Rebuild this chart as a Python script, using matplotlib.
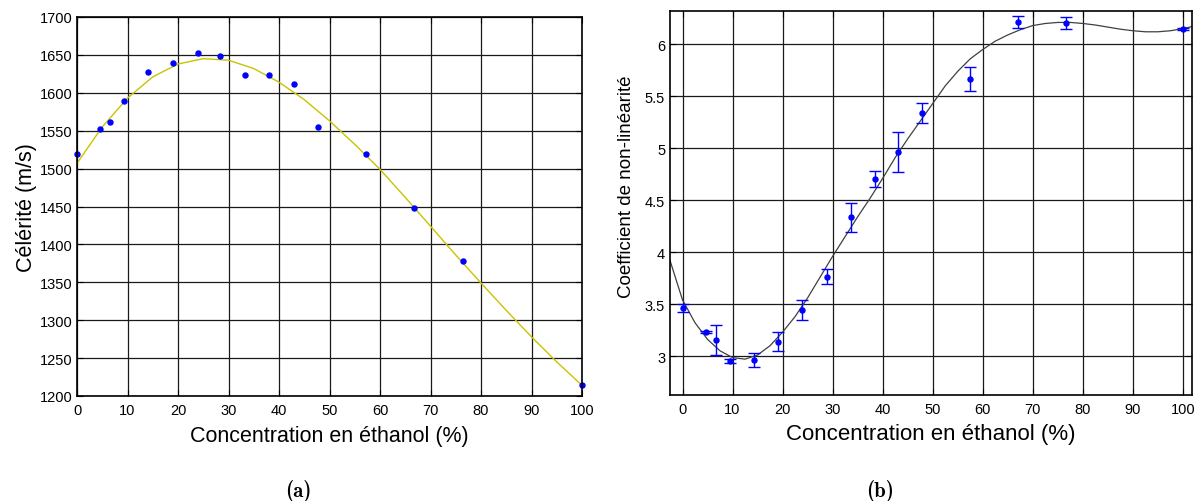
import numpy as np
import matplotlib
matplotlib.use("Agg")
import matplotlib.pyplot as plt

plt.rcParams['font.family'] = ['Liberation Sans', 'DejaVu Sans']

# (a) celerite vs concentration
conc_a = [0, 4.6, 6.5, 9.3, 14.1, 19.0, 23.9, 28.4, 33.2, 38.0, 42.9, 47.7, 57.2, 66.8, 76.5, 100]
celerite = [1519, 1552, 1561, 1589, 1627, 1639, 1653, 1649, 1624, 1624, 1612, 1555, 1519, 1448, 1378, 1214]
# fitted curve
fit_a_x = [0, 5, 10, 15, 20, 25, 30, 35, 40, 45, 50, 55, 60, 65, 70, 75, 80, 85, 90, 95, 100]
fit_a_y = [1507, 1555, 1593, 1621, 1638, 1645, 1643, 1632, 1614, 1591, 1563, 1532, 1499,
           1462, 1424, 1386, 1349, 1313, 1278, 1245, 1214]

# (b) non-linearity coefficient
conc_b = [0, 4.6, 6.6, 9.5, 14.3, 19.1, 23.9, 28.8, 33.6, 38.5, 43.0, 47.9, 57.4, 67.0, 76.7, 100]
coef_b = [3.465, 3.229, 3.158, 2.952, 2.961, 3.139, 3.442, 3.765, 4.333, 4.702, 4.965, 5.340,
          5.667, 6.215, 6.205, 6.151]
err_b = [0.04, 0.012, 0.145, 0.016, 0.065, 0.094, 0.10, 0.076, 0.135, 0.077, 0.19, 0.098,
         0.115, 0.055, 0.06, 0.01]
fit_b_x = [-2.5, 0, 2.5, 5, 7.5, 10, 12.5, 15, 17.5, 20, 22.5, 25, 27.5, 30, 32.5, 35, 37.5,
           40, 42.5, 45, 47.5, 50, 52.5, 55, 57.5, 60, 62.5, 65, 67.5, 70, 72.5, 75, 77.5,
           80, 82.5, 85, 87.5, 90, 92.5, 95, 97.5, 100, 101.8]
fit_b_y = [3.92, 3.54, 3.32, 3.16, 3.05, 2.985, 2.97, 3.01, 3.10, 3.23, 3.38, 3.56, 3.76,
           3.96, 4.15, 4.34, 4.52, 4.71, 4.91, 5.09, 5.26, 5.43, 5.60, 5.74, 5.86, 5.95,
           6.03, 6.09, 6.14, 6.18, 6.20, 6.21, 6.21, 6.20, 6.185, 6.165, 6.145, 6.13,
           6.12, 6.12, 6.13, 6.15, 6.17]

xticks = np.arange(0, 101, 10)
yticks_a = np.arange(1200, 1701, 50)
yticks_b = [3, 3.5, 4, 4.5, 5, 5.5, 6]
yticklabels_b = ['3', '3.5', '4', '4.5', '5', '5.5', '6']

W, H = 1195, 502
fig = plt.figure(figsize=(W / 100, H / 100), dpi=100)
ax1 = fig.add_axes([77 / W, 105 / H, 505 / W, 379 / H])
ax2 = fig.add_axes([670 / W, 106 / H, 522 / W, 384 / H])

for ax in (ax1, ax2):
    ax.grid(True, color='#1a1a1a', lw=0.9)
    ax.set_axisbelow(True)
    ax.tick_params(direction='in', length=4, top=True, right=True, labelsize=10.5,
                   width=0.8)
    ax.tick_params(axis='x', pad=5)
    ax.tick_params(axis='y', pad=3.5)
    for s in ax.spines.values():
        s.set_linewidth(1.2)

ax1.plot(fit_a_x, fit_a_y, color='#c8c400', lw=1.0)
ax1.plot(conc_a, celerite, 'o', color='#0000ff', ms=3.6, clip_on=False)
ax1.set_xlim(0, 100)
ax1.set_ylim(1200, 1700)
ax1.set_xticks(xticks)
ax1.set_yticks(yticks_a)
ax1.set_xlabel('Concentration en éthanol (%)', fontsize=15.5, labelpad=6)
ax1.set_ylabel('Célérité (m/s)', fontsize=15.5, labelpad=2)

ax2.plot(fit_b_x, fit_b_y, color='#404040', lw=0.9)
ax2.errorbar(conc_b, coef_b, yerr=err_b, fmt='o', color='#0000ff', ms=3.6,
             elinewidth=1.0, capsize=4, capthick=1.0, clip_on=False)
ax2.set_xlim(-2.5, 101.8)
ax2.set_ylim(2.625, 6.32)
ax2.set_xticks(xticks)
ax2.set_yticks(yticks_b)
ax2.set_yticklabels(yticklabels_b)
ax2.set_xlabel('Concentration en éthanol (%)', fontsize=16, labelpad=5)
ax2.set_ylabel('Coefficient de non-linéarité', fontsize=13.5)
ax2.yaxis.set_label_coords(-35 / 522, 0.544)

fig.text(298 / W, 1 - 491 / H, '(a)', ha='center', va='center', fontsize=15,
         family=['cmb10', 'DejaVu Serif'])
fig.text(880 / W, 1 - 491 / H, '(b)', ha='center', va='center', fontsize=15,
         family=['cmb10', 'DejaVu Serif'])

fig.savefig('out.png', dpi=100)
